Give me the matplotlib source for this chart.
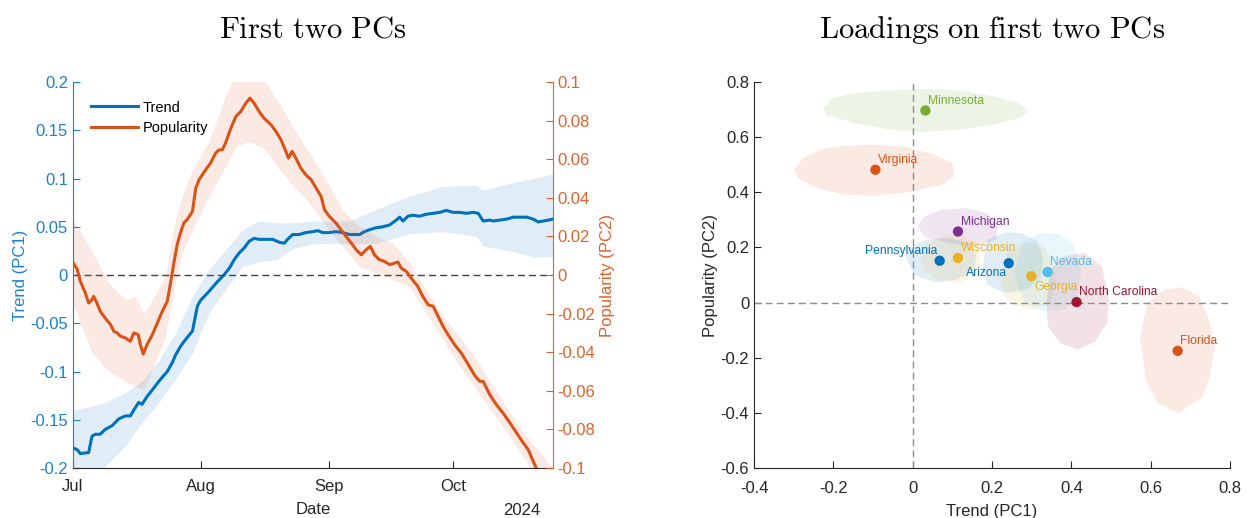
import numpy as np
import matplotlib
matplotlib.use("Agg")
import matplotlib.pyplot as plt
import matplotlib.dates as mdates

plt.rcParams['font.family'] = ['Liberation Sans', 'DejaVu Sans']
plt.rcParams['mathtext.fontset'] = 'cm'

# ---- left panel: PC time series (days since 2024-07-01) ----
start = np.datetime64('2024-07-01')

trend_days = [0, 1, 1.8, 3.8, 4.6, 5.4, 6.6, 7.8, 9.5, 11.1, 12.7, 13.9, 14.7, 15.9, 16.7,
              17.9, 19.2, 20.8, 22.8, 24, 24.8, 26, 27.2, 28.9, 30.1, 30.9, 32.9, 34.9, 36.5,
              37.8, 39, 40.2, 41.4, 42.6, 43.8, 45, 46.6, 48.3, 49.9, 51.1, 51.9, 53.1, 54.7,
              56.3, 58, 59.2, 60.4, 62, 63.6, 65.2, 66.9, 68.1, 69.3, 70.5, 71.7, 73.3, 74.9,
              76.6, 78.2, 79, 79.8, 81, 82.2, 83.8, 85.4, 87.1, 88.7, 90.3, 91.9, 93.5, 95.1,
              96.8, 98, 99.2, 100.8, 101.6, 103.2, 104.9, 106.5, 108.1, 109.7, 111.3, 112.5,
              113.7, 115, 116]
trend = [-0.179, -0.181, -0.185, -0.184, -0.167, -0.165, -0.165, -0.160, -0.156, -0.149,
         -0.146, -0.146, -0.140, -0.132, -0.134, -0.126, -0.119, -0.110, -0.100, -0.091,
         -0.083, -0.074, -0.067, -0.058, -0.032, -0.026, -0.017, -0.007, 0.000, 0.007,
         0.016, 0.023, 0.028, 0.035, 0.038, 0.037, 0.037, 0.037, 0.034, 0.033, 0.037,
         0.042, 0.042, 0.044, 0.045, 0.046, 0.044, 0.044, 0.045, 0.044, 0.042, 0.042,
         0.042, 0.045, 0.047, 0.049, 0.050, 0.052, 0.057, 0.060, 0.056, 0.061, 0.062,
         0.061, 0.063, 0.064, 0.065, 0.067, 0.065, 0.065, 0.064, 0.065, 0.064, 0.056,
         0.057, 0.056, 0.057, 0.058, 0.060, 0.060, 0.060, 0.058, 0.055, 0.056, 0.057, 0.058]

trend_band_days = [0, 4.6, 7.8, 12.7, 16.7, 20.8, 24.8, 28.9, 32.9, 36.9, 41, 45, 49.1, 53.1,
                   57.2, 62, 66.9, 73.3, 81.4, 89.5, 97.6, 99.2, 105.7, 111.3, 116]
trend_hi = [-0.140, -0.136, -0.132, -0.122, -0.110, -0.088, -0.060, -0.022, 0.006, 0.026,
            0.047, 0.056, 0.054, 0.054, 0.056, 0.056, 0.056, 0.068, 0.082, 0.092, 0.093,
            0.088, 0.095, 0.100, 0.105]
trend_lo = [-0.220, -0.215, -0.198, -0.177, -0.153, -0.132, -0.108, -0.081, -0.039, -0.015,
            0.009, 0.014, 0.016, 0.027, 0.032, 0.033, 0.032, 0.033, 0.043, 0.045, 0.040,
            0.030, 0.025, 0.019, 0.019]

pop_days = [0, 1.0, 1.8, 3.0, 3.8, 4.6, 5.0, 5.8, 6.6, 7.8, 9.1, 9.9, 10.7, 11.5, 12.7, 13.9,
            14.7, 15.8, 16.3, 17.0, 17.9, 19.2, 20.4, 21.6, 22.8, 23.6, 24.4, 25.2, 26.0,
            26.8, 27.6, 28.9, 29.7, 30.5, 32.1, 33.3, 34.5, 35.3, 36.1, 36.9, 38.2, 39.4,
            40.6, 41.8, 42.8, 43.8, 45.0, 46.2, 47.9, 49.1, 50.3, 51.5, 52.1, 53.0, 53.9,
            55.1, 56.3, 57.6, 58.8, 60.0, 60.8, 62.0, 63.6, 64.8, 66.0, 67.3, 68.5, 69.7,
            70.9, 71.9, 72.9, 74.1, 75.3, 76.6, 77.8, 78.6, 79.4, 80.6, 81.8, 83.4, 84.6,
            85.9, 87.1, 88.3, 89.5, 90.7, 92.3, 93.9, 95.6, 97.2, 98.4, 99.2, 100.8, 102.4,
            104.0, 105.7, 107.3, 108.9, 110.1, 111.3, 112.0, 116]
popularity = [0.0066, 0.0031, -0.0033, -0.0093, -0.0145, -0.0128, -0.0110, -0.0145, -0.0188,
              -0.0223, -0.0257, -0.0292, -0.0300, -0.0317, -0.0326, -0.0343, -0.0300, -0.0309,
              -0.0361, -0.0409, -0.0361, -0.0309, -0.0249, -0.0188, -0.0136, -0.0041, 0.0062,
              0.0157, 0.0218, 0.0270, 0.0287, 0.0330, 0.0451, 0.0494, 0.0546, 0.0581, 0.0632,
              0.0649, 0.0649, 0.0684, 0.0762, 0.0822, 0.0848, 0.0891, 0.0917, 0.0891, 0.0848,
              0.0813, 0.0779, 0.0744, 0.0701, 0.0641, 0.0606, 0.0641, 0.0606, 0.0554, 0.0520,
              0.0494, 0.0451, 0.0408, 0.0339, 0.0304, 0.0270, 0.0235, 0.0201, 0.0166, 0.0131,
              0.0105, 0.0131, 0.0149, 0.0105, 0.0080, 0.0071, 0.0054, 0.0062, 0.0067, 0.0036,
              0.0019, -0.0016, -0.0059, -0.0111, -0.0154, -0.0162, -0.0214, -0.0266, -0.0309,
              -0.0361, -0.0404, -0.0464, -0.0522, -0.0551, -0.0551, -0.0620, -0.0672, -0.0715,
              -0.0767, -0.0819, -0.0870, -0.0905, -0.0965, -0.1000, -0.1080]

pop_band_days = [0, 4.6, 8.7, 12.7, 15.1, 17.1, 19.2, 22.4, 24.4, 26.4, 28.9, 32.9, 36.9, 39.4,
                 42.6, 46.6, 49.9, 53.1, 57.2, 61.2, 65.2, 69.3, 73.3, 77.4, 81.4, 85.4, 89.5,
                 93.5, 97.6, 101.6, 105.7, 109.7, 116]
pop_hi = [0.029, 0.0123, -0.0041, -0.0128, -0.011, -0.0197, -0.0128, -0.0007, 0.0252, 0.0408,
          0.0546, 0.0693, 0.0926, 0.105, 0.110, 0.100, 0.0891, 0.077, 0.0632, 0.0494, 0.0339,
          0.0252, 0.020, 0.0166, 0.0062, -0.0076, -0.0214, -0.0318, -0.0439, -0.0577,
          -0.0715, -0.0836, -0.100]
pop_lo = [-0.015, -0.0404, -0.0499, -0.0551, -0.0577, -0.0594, -0.049, -0.0318, -0.0076,
          0.0114, 0.0235, 0.0408, 0.0563, 0.0667, 0.0693, 0.0649, 0.0546, 0.0468, 0.0373,
          0.0252, 0.0149, 0.0045, 0.001, -0.0024, -0.0059, -0.0197, -0.0335, -0.0473,
          -0.0594, -0.0715, -0.0836, -0.0974, -0.115]

# ---- right panel: loadings ----
states = ['Minnesota', 'Virginia', 'Michigan', 'Pennsylvania', 'Wisconsin', 'Arizona',
          'Georgia', 'Nevada', 'North Carolina', 'Florida']
pc1 = [0.032, -0.094, 0.114, 0.068, 0.114, 0.242, 0.299, 0.340, 0.413, 0.668]
pc2 = [0.697, 0.482, 0.258, 0.152, 0.162, 0.143, 0.096, 0.111, 0.002, -0.175]
colors = ['#77AC30', '#D95319', '#7E2F8E', '#0072BD', '#EDB120', '#0072BD',
          '#E6B124', '#4DBEEE', '#A2142F', '#D95319']

blob_x = {
    'Minnesota': [-0.225, -0.203, -0.146, -0.058, 0.030, 0.118, 0.205, 0.267, 0.291, 0.267,
                  0.205, 0.118, 0.030, -0.058, -0.146, -0.218],
    'Virginia': [-0.299, -0.277, -0.233, -0.172, -0.102, -0.014, 0.056, 0.100, 0.104, 0.074,
                 -0.014, -0.102, -0.172, -0.242, -0.290],
    'Michigan': [0.012, 0.030, 0.074, 0.135, 0.188, 0.214, 0.210, 0.161, 0.091, 0.030],
    'Pennsylvania': [-0.018, -0.005, 0.039, 0.091, 0.144, 0.161, 0.153, 0.109, 0.056, 0.004],
    'Wisconsin': [0.021, 0.039, 0.082, 0.126, 0.161, 0.170, 0.153, 0.118, 0.065, 0.030],
    'Arizona': [0.175, 0.188, 0.232, 0.275, 0.315, 0.328, 0.324, 0.289, 0.232, 0.188],
    'Georgia': [0.223, 0.240, 0.284, 0.328, 0.354, 0.363, 0.346, 0.302, 0.258, 0.232],
    'Nevada': [0.254, 0.275, 0.319, 0.372, 0.407, 0.425, 0.416, 0.381, 0.328, 0.284],
    'North Carolina': [0.337, 0.346, 0.381, 0.433, 0.477, 0.495, 0.490, 0.460, 0.416, 0.372,
                       0.341],
    'Florida': [0.574, 0.591, 0.635, 0.679, 0.723, 0.749, 0.762, 0.749, 0.732, 0.670, 0.618,
                0.587],
}
blob_y = {
    'Minnesota': [0.706, 0.742, 0.760, 0.770, 0.775, 0.770, 0.748, 0.724, 0.694, 0.669,
                  0.645, 0.627, 0.620, 0.627, 0.651, 0.681],
    'Virginia': [0.482, 0.524, 0.555, 0.569, 0.573, 0.564, 0.536, 0.506, 0.458, 0.428,
                 0.400, 0.388, 0.391, 0.415, 0.452],
    'Michigan': [0.276, 0.313, 0.337, 0.343, 0.325, 0.276, 0.228, 0.204, 0.216, 0.240],
    'Pennsylvania': [0.168, 0.204, 0.230, 0.234, 0.216, 0.168, 0.113, 0.083, 0.073, 0.101],
    'Wisconsin': [0.155, 0.216, 0.243, 0.246, 0.216, 0.155, 0.095, 0.073, 0.085, 0.113],
    'Arizona': [0.119, 0.228, 0.255, 0.252, 0.222, 0.168, 0.095, 0.047, 0.035, 0.065],
    'Georgia': [0.071, 0.186, 0.216, 0.210, 0.155, 0.071, -0.002, -0.026, -0.008, 0.022],
    'Nevada': [0.095, 0.216, 0.252, 0.250, 0.204, 0.119, 0.022, -0.026, -0.032, -0.002],
    'North Carolina': [-0.002, 0.119, 0.168, 0.180, 0.131, 0.010, -0.074, -0.141, -0.171,
                       -0.147, -0.086],
    'Florida': [-0.123, -0.002, 0.047, 0.056, 0.022, -0.074, -0.159, -0.268, -0.340, -0.401,
                -0.364, -0.280],
}

# label placement (offset in points, alignment)
label_pos = {
    'Minnesota': ((2, 7), 'left'), 'Virginia': ((2, 7), 'left'), 'Michigan': ((2, 7), 'left'),
    'Pennsylvania': ((-2, 7), 'right'), 'Wisconsin': ((2, 7), 'left'),
    'Arizona': ((-1, -7), 'right'), 'Georgia': ((2, -8), 'left'), 'Nevada': ((2, 7), 'left'),
    'North Carolina': ((2, 7), 'left'), 'Florida': ((2, 7), 'left'),
}

blue = '#0072BD'
orange = '#D95319'
blue_ax = '#1a82cc'
orange_ax = '#e0622a'
grey = '#262626'

fig = plt.figure(figsize=(12.47, 5.18), dpi=100)
ax1 = fig.add_axes([0.0585, 0.0965, 0.3847, 0.745])
ax2 = ax1.twinx()

def to_dates(days):
    return start + (np.array(days) * 24 * 60).astype('timedelta64[m]')

ax1.fill_between(to_dates(trend_band_days), trend_lo, trend_hi, color=blue, alpha=0.12, lw=0)
ax1.plot(to_dates(trend_days), trend, color=blue, lw=2.2, label='Trend')
ax1.axhline(0, color='#404040', lw=1.0, ls=(0, (5, 3)))
ax2.fill_between(to_dates(pop_band_days), pop_lo, pop_hi, color=orange, alpha=0.12, lw=0)
ax2.plot(to_dates(pop_days), popularity, color=orange, lw=2.2, label='Popularity')

ax1.set_xlim(start, start + np.timedelta64(116, 'D'))
ax1.set_ylim(-0.2, 0.2)
ax2.set_ylim(-0.1, 0.1)
ax1.set_yticks(np.arange(-0.2, 0.201, 0.05))
ax1.set_yticklabels(['-0.2', '-0.15', '-0.1', '-0.05', '0', '0.05', '0.1', '0.15', '0.2'])
ax2.set_yticks(np.arange(-0.1, 0.101, 0.02))
ax2.set_yticklabels(['-0.1', '-0.08', '-0.06', '-0.04', '-0.02', '0', '0.02', '0.04', '0.06',
                     '0.08', '0.1'])
ax1.xaxis.set_major_locator(mdates.MonthLocator())
ax1.xaxis.set_major_formatter(mdates.DateFormatter('%b'))

for a in (ax1, ax2):
    a.spines['top'].set_visible(False)
ax1.spines['right'].set_visible(False)
ax2.spines['left'].set_visible(False)
ax2.spines['bottom'].set_visible(False)
ax1.spines['left'].set_color(blue_ax)
ax2.spines['right'].set_color(orange_ax)
ax1.spines['bottom'].set_color(grey)
ax1.tick_params(axis='y', direction='in', colors=blue_ax, labelsize=12, length=5)
ax2.tick_params(axis='y', direction='in', colors=orange_ax, labelsize=12, length=5)
ax1.tick_params(axis='x', direction='in', colors=grey, labelsize=12, length=5, pad=8)
ax1.set_ylabel('Trend (PC1)', color=blue_ax, fontsize=12, labelpad=2)
ax2.set_ylabel('Popularity (PC2)', color=orange_ax, fontsize=12, labelpad=3)
ax1.set_xlabel('Date', color=grey, fontsize=12, labelpad=6)
ax1.text(0.935, -0.11, '2024', transform=ax1.transAxes, ha='center', va='center',
         fontsize=12, color=grey)
ax1.set_title(r'$\mathrm{First\ two\ PCs}$', fontsize=22, pad=32)

h1, l1 = ax1.get_legend_handles_labels()
h2, l2 = ax2.get_legend_handles_labels()
ax2.legend(h1 + h2, l1 + l2, loc='upper left', bbox_to_anchor=(0.02, 0.975), frameon=False,
           fontsize=10.5, handlelength=3.2, handletextpad=0.3, labelspacing=0.45,
           borderaxespad=0.2)

# right panel
ax3 = fig.add_axes([0.6047, 0.0965, 0.3817, 0.745])
for s, c in zip(states, colors):
    ax3.fill(blob_x[s], blob_y[s], color=c, alpha=0.12, lw=0)
ax3.axhline(0, color='#8c8c8c', lw=1.0, ls=(0, (5, 3)))
ax3.axvline(0, color='#8c8c8c', lw=1.0, ls=(0, (5, 3)))
ax3.scatter(pc1, pc2, s=55, c=colors, zorder=3, edgecolors='none')
for s, x, y, c in zip(states, pc1, pc2, colors):
    off, ha = label_pos[s]
    ax3.annotate(s, (x, y), xytext=off, textcoords='offset points', ha=ha, va='center',
                 fontsize=8.7, color=c)
ax3.set_xlim(-0.4, 0.8)
ax3.set_ylim(-0.6, 0.8)
ax3.set_xticks(np.arange(-0.4, 0.801, 0.2))
ax3.set_xticklabels(['-0.4', '-0.2', '0', '0.2', '0.4', '0.6', '0.8'])
ax3.set_yticks(np.arange(-0.6, 0.801, 0.2))
ax3.set_yticklabels(['-0.6', '-0.4', '-0.2', '0', '0.2', '0.4', '0.6', '0.8'])
ax3.spines['top'].set_visible(False)
ax3.spines['right'].set_visible(False)
for sp in ('left', 'bottom'):
    ax3.spines[sp].set_color(grey)
ax3.tick_params(direction='in', colors=grey, labelsize=12, length=5)
ax3.tick_params(axis='x', pad=9)
ax3.set_xlabel('Trend (PC1)', fontsize=12, color=grey, labelpad=6)
ax3.set_ylabel('Popularity (PC2)', fontsize=12, color=grey, labelpad=2)
ax3.set_title(r'$\mathrm{Loadings\ on\ first\ two\ PCs}$', fontsize=22, pad=32)

fig.savefig('out.png', dpi=100)
